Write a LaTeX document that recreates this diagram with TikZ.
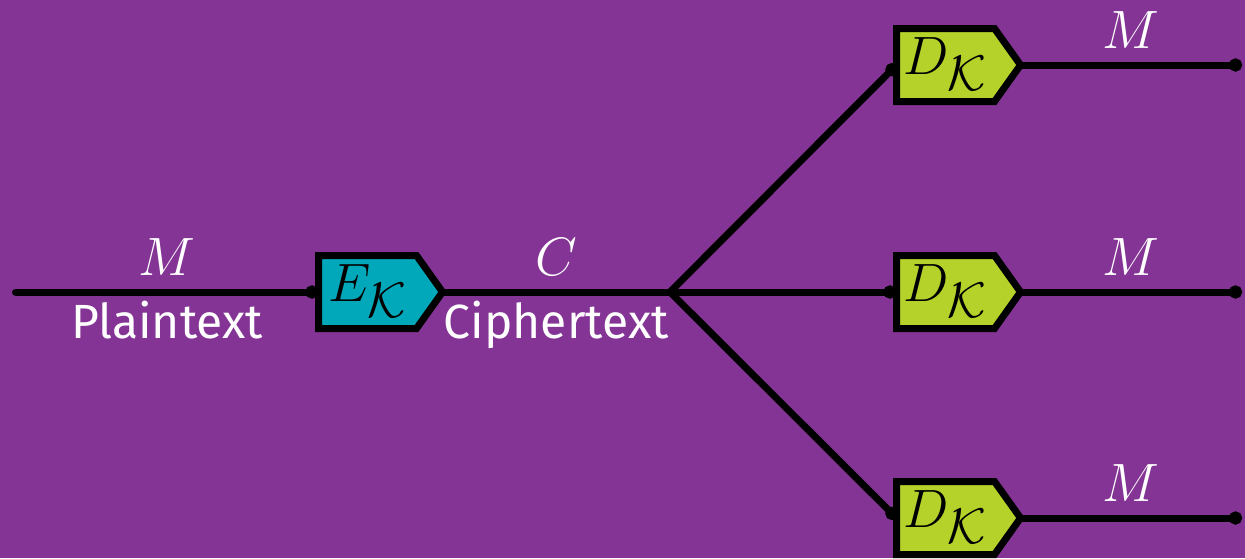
\RequirePackage{fix-cm}
\documentclass[tikz,border=0pt]{standalone}
\usepackage{fontspec}
\setmainfont{Fira Sans}
\usetikzlibrary{shapes.symbols,arrows.meta}
\DeclareMathSizes{27}{27}{25}{20}
\definecolor{bgpurple}{RGB}{132,52,148}
\definecolor{encteal}{RGB}{0,168,186}
\definecolor{declime}{RGB}{181,210,42}
\newcommand\bigmath{\fontsize{27}{32}\selectfont}
\newcommand\labeltext{\fontsize{24}{28}\selectfont}
\begin{document}
\begin{tikzpicture}[x=0.5pt,y=-0.5pt,
  cipherbox/.style={signal, signal to=east, signal from=nowhere,
    signal pointer angle=109, draw=black, line width=3.5pt,
    inner sep=0pt, outer sep=0pt, text width=49pt, align=center,
    text height=23pt, text depth=13.5pt, font=\bigmath},
  wire/.style={draw=black, line width=3.5pt, line cap=round},
  tipped/.style={-{Circle[length=6.5pt]}},
  toplabel/.style={midway, anchor=base, yshift=8.5pt, text=white,
    inner sep=0pt, font=\bigmath},
  botlabel/.style={midway, anchor=base, yshift=-23pt, text=white,
    inner sep=0pt, font=\labeltext}]
\fill[bgpurple] (0,0) rectangle (1245,558);
\useasboundingbox (0,0) rectangle (1245,558);
\node[cipherbox, fill=encteal] (enc) at (367.5,292) {$E_{\mathcal{K}}$};
\node[cipherbox, fill=declime] (dec1) at (945.5,65) {$D_{\mathcal{K}}$};
\node[cipherbox, fill=declime] (dec2) at (945.5,292) {$D_{\mathcal{K}}$};
\node[cipherbox, fill=declime] (dec3) at (945.5,518) {$D_{\mathcal{K}}$};
\coordinate (src) at (15.5,292);
\coordinate (fork) at (670,292);
\coordinate (out1) at (1242,65);
\coordinate (out2) at (1242,292);
\coordinate (out3) at (1242,518);
\draw[wire, tipped] (src) -- node[toplabel]{$M$} node[botlabel]{Plaintext} (enc.west);
\draw[wire] (enc.east) -- node[toplabel]{$C$} node[botlabel]{Ciphertext} (fork);
\draw[wire, tipped] (fork) -- (dec1.west);
\draw[wire, tipped] (fork) -- (dec2.west);
\draw[wire, tipped] (fork) -- (dec3.west);
\draw[wire, tipped] (dec1.east) -- node[toplabel]{$M$} (out1);
\draw[wire, tipped] (dec2.east) -- node[toplabel]{$M$} (out2);
\draw[wire, tipped] (dec3.east) -- node[toplabel]{$M$} (out3);
\end{tikzpicture}
\end{document}
